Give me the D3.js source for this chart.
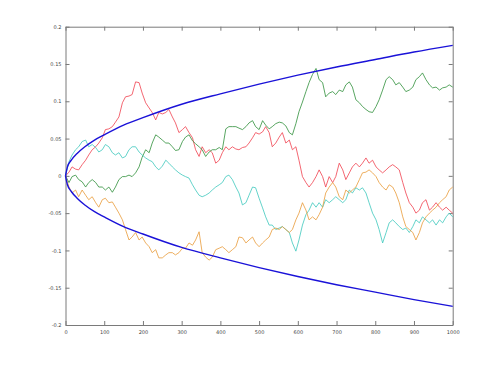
<!DOCTYPE html>
<html>
<head>
<meta charset="utf-8">
<script src="https://cdn.jsdelivr.net/npm/d3@7"></script>
<style>
  html, body { margin: 0; padding: 0; background: #fff; }
  #chart { width: 500px; height: 366px; }
  text { font-family: "DejaVu Sans", sans-serif; }
</style>
</head>
<body>
<div id="chart"></div>
<script>
const WIDTH = 500;
const HEIGHT = 366;

// plot box (MATLAB-like axes)
const LEFT = 65.5;
const RIGHT = 452.7;
const TOP = 26.7;
const BOTTOM = 325;

const X_TICKS = [0, 100, 200, 300, 400, 500, 600, 700, 800, 900, 1000];
const Y_TICKS = [-0.2, -0.15, -0.1, -0.05, 0, 0.05, 0.1, 0.15, 0.2];

// step positions the walks were read at
const steps = [0, 9, 17, 26, 34, 43, 52, 60, 69, 78, 86, 95, 103, 112, 121, 129, 138, 147, 155, 164,
  172, 181, 190, 198, 207, 216, 224, 233, 241, 250, 259, 267, 276, 284, 293, 302, 310, 319, 328, 336,
  345, 353, 362, 371, 379, 388, 397, 405, 414, 422, 431, 440, 448, 457, 466, 474, 483, 491, 500, 509,
  517, 526, 534, 543, 552, 560, 569, 578, 586, 595, 603, 612, 621, 629, 638, 647, 655, 664, 672, 681,
  690, 698, 707, 716, 724, 733, 741, 750, 759, 767, 776, 784, 793, 802, 810, 819, 828, 836, 845, 853,
  862, 871, 879, 888, 897, 905, 914, 922, 931, 940, 948, 957, 966, 974, 983, 991, 1000];

const redWalk = [0, .005, .012, .009, .008, .015, .021, .028, .035, .039, .044, .051, .062, .063, .066, .072, .079, .098, .106, .107,
  .109, .126, .125, .111, .098, .091, .085, .075, .085, .083, .085, .089, .079, .071, .058, .062, .066, .058, .051, .035,
  .026, .039, .031, .035, .031, .017, .021, .031, .039, .035, .039, .036, .035, .038, .039, .044, .051, .058, .056, .059,
  .066, .058, .039, .044, .052, .058, .044, .048, .035, .039, .021, -.001, -.009, -.015, -.009, -.001, .008, -.001, -.015, -.001,
  -.009, -.001, .017, .008, -.005, .004, .012, .017, .012, .017, .024, .017, .021, .012, .008, .004, .008, .012, .015, .012,
  .008, -.009, -.023, -.036, -.042, -.050, -.046, -.036, -.032, -.046, -.042, -.036, -.042, -.046, -.042, -.046, -.050];

const greenWalk = [0, -.009, -.001, .001, -.005, -.008, -.015, -.009, -.005, -.009, -.015, -.015, -.019, -.015, -.022, -.015, -.005, -.001, -.001, .001,
  -.001, .004, .012, .025, .035, .031, .044, .055, .052, .048, .044, .044, .039, .034, .035, .046, .052, .055, .047, .043,
  .039, .035, .026, .032, .035, .035, .038, .035, .063, .066, .066, .066, .064, .062, .066, .071, .074, .066, .062, .074,
  .068, .063, .066, .070, .072, .071, .067, .058, .055, .070, .086, .099, .113, .125, .136, .144, .129, .125, .106, .111,
  .113, .109, .115, .113, .122, .126, .119, .102, .098, .093, .089, .086, .085, .093, .102, .115, .129, .133, .129, .122,
  .125, .119, .113, .115, .119, .129, .133, .138, .129, .122, .118, .119, .115, .118, .119, .122, .119];

const cyanWalk = [0, .019, .028, .035, .039, .046, .048, .039, .042, .038, .032, .035, .042, .039, .031, .028, .031, .024, .026, .035,
  .039, .039, .032, .028, .024, .021, .019, .012, .008, .013, .021, .017, .012, .008, .004, .001, -.001, -.003, -.012, -.019,
  -.026, -.028, -.026, -.023, -.019, -.015, -.012, -.009, -.001, .001, -.005, -.015, -.023, -.039, -.036, -.026, -.015, -.016, -.030, -.043,
  -.055, -.066, -.066, -.072, -.070, -.068, -.072, -.076, -.090, -.101, -.086, -.066, -.052, -.046, -.036, -.042, -.036, -.042, -.032, -.036,
  -.032, -.028, -.032, -.036, -.032, -.019, -.023, -.016, -.019, -.016, -.023, -.036, -.050, -.059, -.072, -.090, -.076, -.063, -.059, -.063,
  -.068, -.072, -.070, -.076, -.068, -.059, -.063, -.055, -.059, -.063, -.059, -.066, -.059, -.063, -.055, -.050, -.055];

const orangeWalk = [0, -.015, -.023, -.019, -.028, -.019, -.026, -.032, -.028, -.036, -.042, -.032, -.030, -.036, -.035, -.042, -.050, -.059, -.072, -.086,
  -.082, -.076, -.086, -.082, -.090, -.095, -.103, -.099, -.110, -.110, -.106, -.103, -.103, -.106, -.103, -.097, -.097, -.090, -.093, -.086,
  -.075, -.103, -.109, -.113, -.109, -.099, -.097, -.095, -.099, -.103, -.099, -.095, -.082, -.083, -.090, -.086, -.082, -.090, -.095, -.090,
  -.086, -.082, -.072, -.070, -.072, -.068, -.072, -.076, -.072, -.059, -.050, -.036, -.046, -.059, -.055, -.059, -.052, -.042, -.023, -.015,
  -.009, -.015, -.028, -.032, -.019, -.023, -.019, -.015, -.005, .004, .005, .008, .004, -.001, -.009, -.015, -.019, -.012, -.015, -.023,
  -.036, -.055, -.068, -.072, -.076, -.086, -.076, -.063, -.055, -.050, -.046, -.042, -.036, -.032, -.028, -.019, -.015];

// envelope
const envSteps = [0, 5, 15, 30, 50, 75, 100, 150, 200, 300, 400, 500, 600, 700, 800, 900, 1000];
const envUpper = [0, .012, .021, .030, .039, .048, .055, .068, .078, .096, .110, .123, .135, .146, .156, .166, .175];
const envLower = [0, -.012, -.021, -.030, -.039, -.048, -.055, -.068, -.078, -.096, -.110, -.123, -.135, -.146, -.156, -.166, -.175];

const walks = [
  {values: redWalk, color: '#f0404e'},
  {values: greenWalk, color: '#2f8f3a'},
  {values: cyanWalk, color: '#3cc8bc'},
  {values: orangeWalk, color: '#e89a38'}
];

const x = d3.scaleLinear().domain([0, 1000]).range([LEFT, RIGHT]);
const y = d3.scaleLinear().domain([-0.2, 0.2]).range([BOTTOM, TOP]);

const svg = d3.select('#chart').append('svg')
  .attr('width', WIDTH).attr('height', HEIGHT);

const AXIS_COLOR = '#7a7a7a';
const fmtY = d => String(+d.toFixed(2));
const fmtX = d => String(d);

// bottom / top / left / right axes, ticks pointing inwards
const gx = svg.append('g').attr('transform', `translate(0,${BOTTOM})`)
  .call(d3.axisBottom(x).tickValues(X_TICKS).tickSizeInner(-4).tickSizeOuter(0).tickPadding(5).tickFormat(fmtX));
const gxt = svg.append('g').attr('transform', `translate(0,${TOP})`)
  .call(d3.axisTop(x).tickValues(X_TICKS).tickSizeInner(-4).tickSizeOuter(0).tickFormat(''));
const gy = svg.append('g').attr('transform', `translate(${LEFT},0)`)
  .call(d3.axisLeft(y).tickValues(Y_TICKS).tickSizeInner(-4).tickSizeOuter(0).tickPadding(4).tickFormat(fmtY));
const gyr = svg.append('g').attr('transform', `translate(${RIGHT},0)`)
  .call(d3.axisRight(y).tickValues(Y_TICKS).tickSizeInner(-4).tickSizeOuter(0).tickFormat(''));

[gx, gxt, gy, gyr].forEach(g => {
  g.selectAll('.domain').attr('stroke', AXIS_COLOR).attr('stroke-width', 1);
  g.selectAll('.tick line').attr('stroke', AXIS_COLOR);
  g.selectAll('.tick text').attr('fill', '#444').style('font-size', '5px')
    .style('font-family', '"DejaVu Sans", sans-serif');
});

const line = d3.line()
  .x((d, i) => x(steps[i]))
  .y(d => y(d));

walks.forEach(w => {
  svg.append('path')
    .datum(w.values)
    .attr('fill', 'none')
    .attr('stroke', w.color)
    .attr('stroke-width', 0.8)
    .attr('stroke-linejoin', 'round')
    .attr('d', line);
});

const envLine = d3.line()
  .x((d, i) => x(envSteps[i]))
  .y(d => y(d))
  .curve(d3.curveMonotoneX);

[envUpper, envLower].forEach(vals => {
  svg.append('path')
    .datum(vals)
    .attr('fill', 'none')
    .attr('stroke', '#1a12d8')
    .attr('stroke-width', 1.4)
    .attr('d', envLine);
});
</script>
</body>
</html>
